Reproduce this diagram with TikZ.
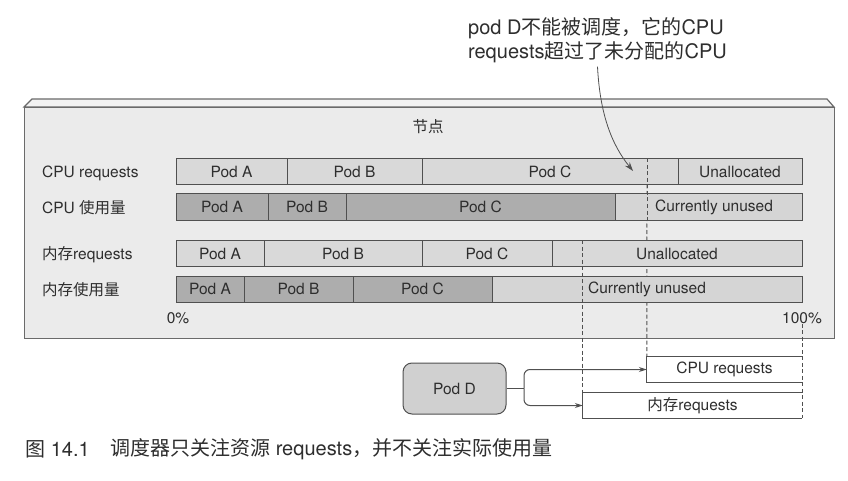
\documentclass[tikz,border=0pt]{standalone}
\usepackage{fontspec}
\setmainfont{TeX Gyre Heros}
\newfontfamily\cjk{Noto Sans CJK SC}
\usetikzlibrary{arrows.meta}
\definecolor{panelfill}{HTML}{EBEBEB}
\definecolor{topfill}{HTML}{F2F2F2}
\definecolor{reqfill}{HTML}{D9D9D9}
\definecolor{usefill}{HTML}{ADADAD}
\definecolor{freefill}{HTML}{D5D5D5}
\definecolor{poddfill}{HTML}{D0D0D0}
\definecolor{edge}{HTML}{505050}
\definecolor{paneledge}{HTML}{6A6A6A}
\definecolor{txt}{HTML}{2E2E2E}
\begin{document}
\begin{tikzpicture}[x=1pt,y=-1pt,
  every node/.style={font=\fontsize{15.5}{18}\selectfont, text=txt, inner sep=0pt},
  seg/.style={draw=edge, line width=1pt, minimum height=26pt},
  req/.style={seg, fill=reqfill},
  use/.style={seg, fill=usefill},
  free/.style={seg, fill=freefill},
  rowlabel/.style={anchor=base west},
  guide/.style={draw=edge, line width=0.9pt, dash pattern=on 4pt off 2.5pt},
  conn/.style={draw=edge, line width=1pt},
  bigtext/.style={font=\fontsize{20}{24}\selectfont},
  tipstyle/.style={-{Stealth[length=8pt,width=5pt]}},
]
\useasboundingbox (0,0) rectangle (848,481);
\fill[white] (0,0) rectangle (848,481);

% node panel
\path[fill=topfill, draw=paneledge, line width=1.2pt] (24,107) -- (32,99) -- (827,99) -- (834,107) -- cycle;
\node[draw=paneledge, fill=panelfill, line width=1.2pt, minimum width=810pt, minimum height=231pt, anchor=north west] (panel) at (24,107) {};
\node (title) at (428,127) {\cjk 节点};

% Pod D request boxes (placed first so guides can refer to them)
\node[fill=white, minimum width=155pt, minimum height=25pt] (cpubox) at (724.5,369.5) {CPU requests};
\node[fill=white, minimum width=219pt, minimum height=25pt] (membox) at (692.5,405.5) {{\cjk 内存}requests};

% CPU guide, behind the memory bars
\coordinate (cputop) at (647,158.5);
\draw[guide] (cputop) -- (cpubox.north west);

% row labels
\node[rowlabel] (l1) at (42,177.5) {CPU requests};
\node[rowlabel] (l2) at (42,213) {CPU {\cjk 使用量}};
\node[rowlabel] (l3) at (42,259.5) {{\cjk 内存}requests};
\node[rowlabel] (l4) at (42,295) {{\cjk 内存使用量}};

% row 1: CPU requests
\node[req, minimum width=111pt] (r1a) at (231.5,171.5) {Pod A};
\node[req, minimum width=135pt] (r1b) at (354.5,171.5) {Pod B};
\node[req, minimum width=256pt] (r1c) at (550,171.5) {Pod C};
\node[req, minimum width=124pt] (r1d) at (740,171.5) {Unallocated};

% row 2: CPU usage
\node[use, minimum width=92pt] (r2a) at (222,207) {Pod A};
\node[use, minimum width=78pt] (r2b) at (307,207) {Pod B};
\node[use, minimum width=269pt] (r2c) at (480.5,207) {Pod C};
\node[free, minimum width=187pt] (r2d) at (708.5,207) {};
\node (r2dt) at (714,207) {Currently unused};

% row 3: memory requests
\node[req, minimum width=88pt] (r3a) at (220,253.5) {Pod A};
\node[req, minimum width=158pt] (r3b) at (343,253.5) {Pod B};
\node[req, minimum width=130pt] (r3c) at (487,253.5) {Pod C};
\node[req, minimum width=250pt] (r3d) at (677,253.5) {Unallocated};

% row 4: memory usage
\node[use, minimum width=68pt] (r4a) at (210,289) {Pod A};
\node[use, minimum width=109pt] (r4b) at (298.5,289) {Pod B};
\node[use, minimum width=139pt] (r4c) at (422.5,289) {Pod C};
\node[free, minimum width=310pt] (r4d) at (647,289) {Currently unused};

\node (p0) at (178,318) {0\%};
\node (p100) at (802,318) {100\%};

% CPU guide again, over the CPU bars
\draw[guide] (cputop) -- (cputop |- r2d.south);

% box outlines
\draw[conn] (cpubox.north east) -- (cpubox.north west) -- (cpubox.south west) -- (cpubox.south east);
\draw[conn] (membox.north east) -- (membox.north west) -- (membox.south west) -- (membox.south east);

% memory and 100% guides
\draw[guide] (membox.north west |- r3c.north) -- (membox.north west);
\draw[guide] (membox.south east |- p100.south) -- (membox.south east);

% Pod D and connectors
\node[draw=edge, fill=poddfill, line width=1pt, rounded corners=9pt, minimum width=103pt, minimum height=51pt] (podd) at (454.5,388.5) {Pod D};
\coordinate (split) at (524,388.5);
\draw[conn] (podd.east) -- (split);
\draw[conn, tipstyle, rounded corners=6pt] (split) |- (cpubox.west);
\draw[conn, tipstyle, rounded corners=6pt] (split) |- (membox.west);

% annotation
\node[bigtext, align=left, outer sep=4pt] (note) at (597.5,40) {pod D{\cjk 不能被调度，它的}CPU\\requests{\cjk 超过了未分配的}CPU};
\coordinate (tip) at (633,171);
\draw[conn, line width=0.8pt, -{Stealth[length=9pt,width=6pt]}] (note.south) .. controls (600,115) and (612,145) .. (tip);

% caption
\node[bigtext, anchor=west] (cap1) at (25,449) {{\cjk 图} 14.1};
\node[bigtext, anchor=west] (cap2) at (110,449) {{\cjk 调度器只关注资源} requests{\cjk ，并不关注实际使用量}};
\end{tikzpicture}
\end{document}
